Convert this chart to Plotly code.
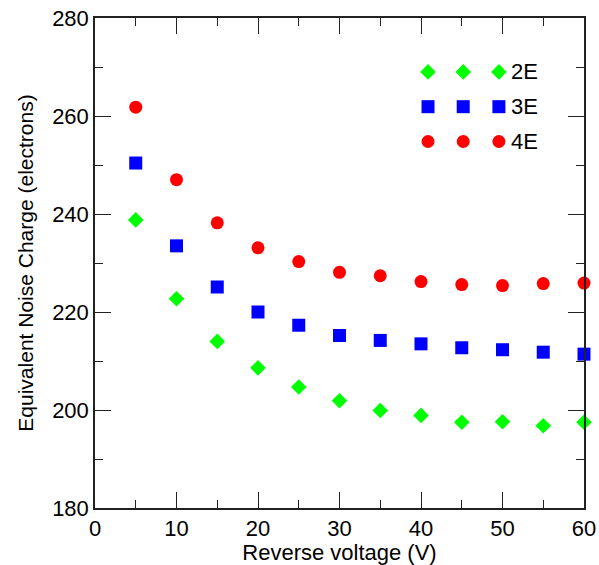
import plotly.graph_objects as go

# Reverse bias voltage (V)
voltage = [5, 10, 15, 20, 25, 30, 35, 40, 45, 50, 55, 60]

# Equivalent noise charge (electrons) per configuration
enc_2e = [238.8, 222.7, 214.0, 208.6, 204.7, 201.9, 199.9, 198.9, 197.5, 197.6, 196.8, 197.5]
enc_3e = [250.4, 233.5, 225.1, 220.0, 217.3, 215.2, 214.2, 213.5, 212.7, 212.3, 211.8, 211.4]
enc_4e = [261.8, 247.0, 238.2, 233.1, 230.3, 228.1, 227.4, 226.2, 225.6, 225.4, 225.8, 225.9]

series_names = ["2E", "3E", "4E"]
x_ticks = [0, 10, 20, 30, 40, 50, 60]
y_ticks = [180, 200, 220, 240, 260, 280]

FONT = "Liberation Sans, Arial, sans-serif"
styles = {
    "2E": dict(symbol="diamond", color="#00ff00", size=12),
    "3E": dict(symbol="square", color="#0000ff", size=13),
    "4E": dict(symbol="circle", color="#ff0000", size=13),
}
series = {"2E": enc_2e, "3E": enc_3e, "4E": enc_4e}

fig = go.Figure()
for name in series_names:
    st = styles[name]
    fig.add_trace(go.Scatter(
        x=voltage, y=series[name], mode="markers", name=name,
        marker=dict(symbol=st["symbol"], color=st["color"], size=st["size"], line=dict(width=0)),
        showlegend=False, cliponaxis=False,
    ))

# Legend key: three sample markers per series on a hidden overlay axis (0..1 frame)
key_x = [0.681, 0.753, 0.826]
key_y = {"2E": 0.890, "3E": 0.819, "4E": 0.748}
for name in series_names:
    st = styles[name]
    fig.add_trace(go.Scatter(
        x=key_x, y=[key_y[name]] * len(key_x), mode="markers",
        xaxis="x2", yaxis="y2", showlegend=False, hoverinfo="skip",
        marker=dict(symbol=st["symbol"], color=st["color"], size=st["size"], line=dict(width=0)),
    ))
    fig.add_annotation(
        x=0.846, y=key_y[name], xref="x2", yref="y2", text=name, showarrow=False,
        xanchor="left", yanchor="middle", font=dict(family=FONT, size=22, color="black"),
    )

axis_common = dict(
    showline=True, linecolor="#222", linewidth=1.5, mirror="allticks",
    ticks="inside", tickcolor="#222", tickwidth=1.2, ticklen=16,
    showgrid=False, zeroline=False, automargin=False,
    tickfont=dict(family=FONT, size=22, color="black"),
)

fig.update_layout(
    width=599, height=565,
    margin=dict(l=95, r=15, t=18, b=57),
    paper_bgcolor="white", plot_bgcolor="white",
    xaxis=dict(
        range=[0, 60], tickvals=x_ticks,
        minor=dict(dtick=5, tick0=0, ticks="inside", ticklen=8, tickcolor="#222", tickwidth=1.2),
        title=dict(text="Reverse voltage (V)", font=dict(family=FONT, size=22, color="black"), standoff=8),
        **axis_common,
    ),
    yaxis=dict(
        range=[180, 280], tickvals=y_ticks,
        minor=dict(dtick=10, tick0=180, ticks="inside", ticklen=8, tickcolor="#222", tickwidth=1.2),
        title=dict(text="Equivalent Noise Charge (electrons)", font=dict(family=FONT, size=21, color="black"), standoff=13),
        **axis_common,
    ),
    xaxis2=dict(overlaying="x", range=[0, 1], visible=False),
    yaxis2=dict(overlaying="y", range=[0, 1], visible=False),
)

fig.write_html("out.html")
